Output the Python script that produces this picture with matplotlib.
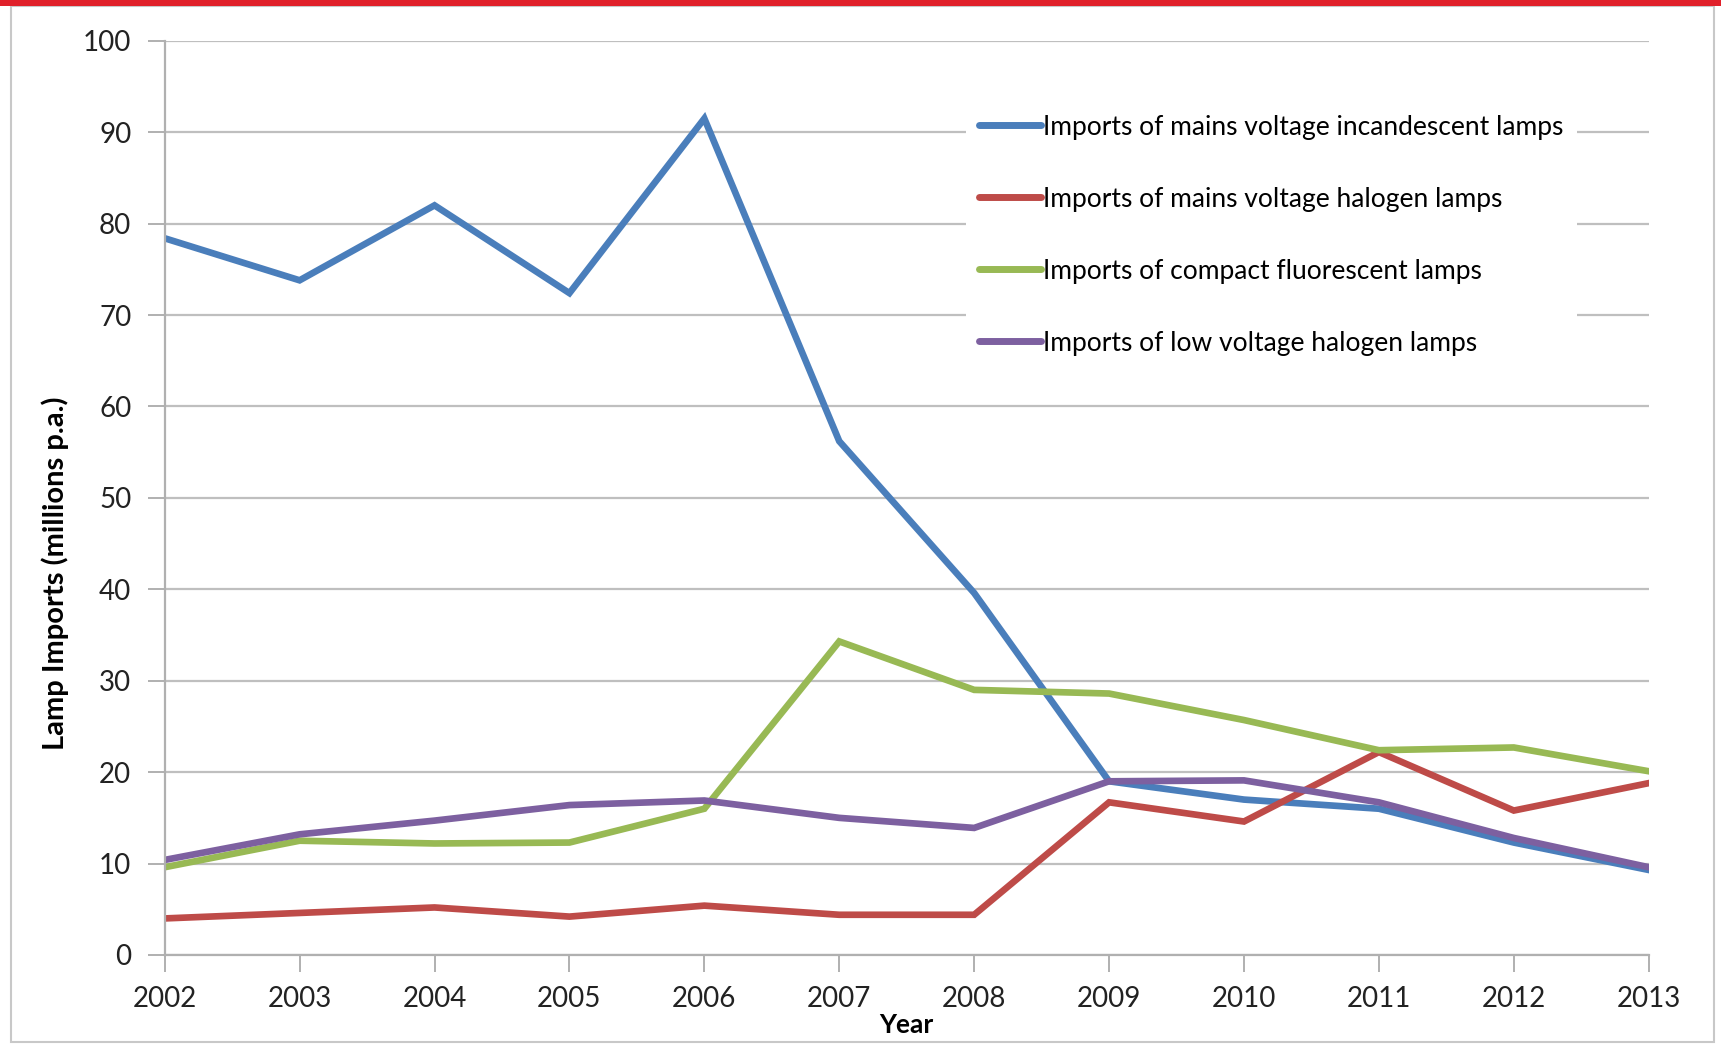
import matplotlib.pyplot as plt
from matplotlib.patches import Rectangle

years = list(range(2002, 2014))
incandescent = [78.4, 73.8, 82.0, 72.4, 91.5, 56.2, 39.6, 19.0, 17.0, 16.0, 12.3, 9.3]
mains_halogen = [4.0, 4.6, 5.2, 4.2, 5.4, 4.4, 4.4, 16.7, 14.6, 22.2, 15.8, 18.8]
cfl = [9.6, 12.5, 12.2, 12.3, 16.0, 34.3, 29.0, 28.6, 25.7, 22.4, 22.7, 20.1]
low_halogen = [10.4, 13.2, 14.7, 16.4, 16.9, 15.0, 13.9, 19.0, 19.1, 16.7, 12.8, 9.6]

series = [
    ("Imports of mains voltage incandescent lamps", incandescent, "#4a7ebb"),
    ("Imports of mains voltage halogen lamps", mains_halogen, "#be4b48"),
    ("Imports of compact fluorescent lamps", cfl, "#98b954"),
    ("Imports of low voltage halogen lamps", low_halogen, "#7d60a0"),
]

plt.rcParams["font.family"] = ["Lato", "DejaVu Sans"]

fig = plt.figure(figsize=(17.21, 10.46), dpi=100)
ax = fig.add_axes([0.0957, 0.087, 0.8623, 0.874])

for label, vals, color in series:
    ax.plot(years, vals, color=color, lw=4.8, label=label, solid_joinstyle="miter")

ax.set_xlim(2002, 2013)
ax.set_ylim(0, 100)
ax.set_xticks(years)
ax.set_yticks(range(0, 101, 10))
ax.grid(axis="y", color="#bfbfbf", lw=1.6)
ax.set_axisbelow(True)
for side in ["top", "right"]:
    ax.spines[side].set_visible(False)
for side in ["left", "bottom"]:
    ax.spines[side].set_color("#b0b0b0")
    ax.spines[side].set_linewidth(1.6)
ax.tick_params(axis="x", direction="out", length=12, width=1.4, color="#b0b0b0",
               labelsize=20, pad=10, labelcolor="#222222")
ax.tick_params(axis="y", direction="out", length=12, width=1.4, color="#b0b0b0",
               labelsize=20, pad=12, labelcolor="#222222")

ax.set_xlabel("Year", fontsize=19, fontweight="bold", labelpad=1)
ax.set_ylabel("Lamp Imports (millions p.a.)", fontsize=21, fontweight="bold",
              va="center")
ax.yaxis.set_label_coords(-0.074, 0.418)

leg = ax.legend(loc="upper left", bbox_to_anchor=(0.531, 0.948), frameon=True,
                edgecolor="none", facecolor="white", framealpha=1, fontsize=19,
                handlelength=2.33, handletextpad=0.1, labelspacing=1.78, borderpad=0.5)
for line in leg.get_lines():
    line.set_linewidth(5)
    line.set_solid_capstyle("round")

# page frame and red banner strip
fig.patches.append(Rectangle((0.0064, 0.004), 0.9895, 0.99, transform=fig.transFigure,
                             fill=False, edgecolor="#c8c8c8", lw=1.5))
fig.patches.append(Rectangle((0, 0.994), 1, 0.006, transform=fig.transFigure,
                             color="#e0202a", lw=0))

fig.savefig("out.png", dpi=100)
